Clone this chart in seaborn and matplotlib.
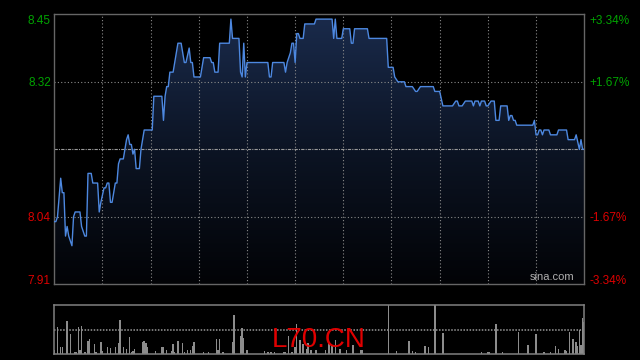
import numpy as np
import matplotlib
matplotlib.use("Agg")
import matplotlib.pyplot as plt
import seaborn as sns
from matplotlib.colors import LinearSegmentedColormap

# ---------------- data ----------------
minutes = [0, 1, 2, 4, 5, 6, 7, 8, 9, 10, 11, 12, 13, 16, 17, 18, 19, 20, 21, 23,
           24, 27, 28, 29, 31, 32, 33, 34, 35, 36, 38, 39, 40, 41, 43, 45, 46, 47, 48, 49,
           50, 51, 53, 54, 56, 61, 62, 67, 68, 69, 70, 71, 72, 74, 75, 77, 79, 81, 82, 84,
           85, 86, 87, 91, 93, 97, 98, 99, 100, 102, 103, 109, 110, 111, 115, 116, 117, 118, 119, 120,
           133, 134, 135, 136, 143, 144, 145, 147, 148, 149, 150, 151, 152, 153, 155, 156, 162, 163, 173, 174,
           175, 176, 179, 180, 184, 185, 186, 187, 195, 196, 207, 208, 211, 212, 214, 218, 219, 223, 225, 226,
           228, 236, 237, 240, 242, 248, 250, 251, 252, 254, 256, 260, 261, 262, 264, 265, 266, 268, 269, 270,
           272, 274, 275, 277, 278, 282, 283, 284, 285, 286, 287, 288, 298, 299, 300, 301, 302, 303, 304, 305,
           308, 309, 313, 314, 319, 320, 324, 325, 327, 328, 329, 330]
prices = [8.03, 8.03, 8.04, 8.12, 8.09, 8.09, 8.00, 8.02, 8.00, 7.99, 7.98, 8.04, 8.05, 8.05, 8.02, 8.01, 8.00, 8.00, 8.13, 8.13,
          8.11, 8.11, 8.05, 8.07, 8.10, 8.10, 8.11, 8.11, 8.07, 8.07, 8.11, 8.11, 8.15, 8.16, 8.16, 8.20, 8.21, 8.19, 8.19, 8.17,
          8.18, 8.14, 8.14, 8.18, 8.22, 8.22, 8.29, 8.29, 8.24, 8.29, 8.31, 8.31, 8.34, 8.34, 8.36, 8.40, 8.40, 8.36, 8.36, 8.39,
          8.36, 8.36, 8.33, 8.33, 8.37, 8.37, 8.36, 8.36, 8.34, 8.34, 8.40, 8.40, 8.45, 8.41, 8.41, 8.34, 8.33, 8.40, 8.33, 8.36,
          8.36, 8.33, 8.33, 8.36, 8.36, 8.34, 8.36, 8.38, 8.40, 8.40, 8.36, 8.42, 8.42, 8.41, 8.41, 8.44, 8.44, 8.45, 8.45, 8.41,
          8.45, 8.41, 8.41, 8.43, 8.43, 8.40, 8.40, 8.43, 8.43, 8.41, 8.41, 8.35, 8.35, 8.33, 8.32, 8.32, 8.31, 8.31, 8.30, 8.30,
          8.31, 8.31, 8.30, 8.30, 8.27, 8.27, 8.28, 8.28, 8.27, 8.27, 8.28, 8.28, 8.27, 8.28, 8.28, 8.27, 8.28, 8.28, 8.27, 8.27,
          8.28, 8.28, 8.24, 8.24, 8.27, 8.27, 8.24, 8.25, 8.25, 8.24, 8.24, 8.23, 8.23, 8.24, 8.21, 8.21, 8.22, 8.22, 8.21, 8.22,
          8.22, 8.21, 8.21, 8.22, 8.22, 8.20, 8.20, 8.21, 8.18, 8.20, 8.18, 8.18]

vol_minutes = [0, 2, 4, 5, 8, 10, 13, 14, 15, 16, 17, 19, 21, 22, 25, 26, 29, 30, 33, 35,
               38, 40, 41, 43, 45, 47, 48, 49, 50, 55, 56, 57, 58, 63, 67, 68, 70, 73, 74, 75,
               77, 80, 81, 83, 85, 86, 87, 93, 96, 101, 102, 103, 105, 111, 112, 116, 117, 118, 120, 131,
               133, 135, 137, 143, 144, 146, 148, 150, 151, 153, 155, 157, 158, 160, 163, 169, 171, 173, 175, 178,
               182, 186, 191, 192, 208, 213, 221, 223, 225, 231, 233, 237, 242, 266, 270, 271, 275, 279, 289, 295,
               300, 305, 309, 312, 314, 318, 319, 321, 323, 325, 326, 327, 328, 329, 330]
volumes = [9, 56, 16, 16, 68, 42, 5, 5, 55, 9, 57, 5, 27, 31, 22, 5, 25, 7, 15, 13,
           16, 24, 70, 16, 12, 36, 5, 7, 11, 26, 27, 23, 15, 7, 16, 16, 9, 7, 21, 5,
           28, 24, 5, 9, 10, 18, 26, 5, 5, 31, 9, 31, 5, 25, 80, 37, 53, 34, 9, 7,
           5, 5, 6, 5, 5, 37, 5, 16, 61, 30, 22, 12, 24, 9, 9, 9, 24, 19, 30, 12,
           9, 19, 9, 10, 100, 7, 27, 7, 5, 17, 15, 100, 44, 5, 5, 5, 61, 5, 46, 19,
           42, 5, 5, 17, 11, 9, 7, 46, 31, 25, 17, 49, 19, 73, 65]

prev_close = 8.18
price_ticks = [8.45, 8.32, 8.04, 7.91]
price_labels = ["8.45", "8.32", "8.04", "7.91"]
pct_labels = ["+3.34%", "+1.67%", "-1.67%", "-3.34%"]
grid_prices = [8.32, 8.04]
session_minutes = 330
grid_minutes = list(range(30, 330, 30))

# ---------------- style ----------------
sns.set_style("dark")
plt.rcParams['font.family'] = ['Liberation Sans', 'DejaVu Sans']

UP = '#00a300'
DOWN = '#dd0000'
SPINE = '#666666'
GRID = '#8a8a8a'
LINE = '#4d88e0'

y_lo, y_hi = prev_close - 0.28, prev_close + 0.28

fig = plt.figure(figsize=(6.4, 3.6), dpi=100, facecolor='black')
ax = fig.add_axes([0.0848, 0.2103, 0.828, 0.75])
axv = fig.add_axes([0.0848, 0.0153, 0.828, 0.1375])

for a in (ax, axv):
    a.set_facecolor('black')
    a.grid(False)

# price line
sns.lineplot(x=minutes, y=prices, ax=ax, color=LINE, linewidth=1.0, zorder=4)

# gradient fill under the line
poly = ax.fill_between(minutes, prices, y_lo, facecolor='none', edgecolor='none')
grad = np.linspace(1, 0, 256).reshape(-1, 1)
cmap = LinearSegmentedColormap.from_list('g', ['#020306', '#0c1424', '#1a2b4c'])
im = ax.imshow(grad, cmap=cmap, aspect='auto', origin='upper',
               extent=[0, session_minutes, y_lo, y_hi], zorder=1, interpolation='bilinear')
im.set_clip_path(poly.get_paths()[0], transform=ax.transData)

# grid
for v in grid_prices:
    ax.axhline(v, color=GRID, lw=0.8, ls=(0, (1, 2)), zorder=2)
for m in grid_minutes:
    ax.axvline(m, color=GRID, lw=0.8, ls=(0, (1, 2)), zorder=2)
ax.axhline(prev_close, color='#9a9a9a', lw=0.8, ls=(0, (3, 1, 1, 1)), zorder=2)

ax.set_xlim(0, session_minutes)
ax.set_ylim(y_lo, y_hi)
ax.set_xticks([])
ax.set_yticks(price_ticks)
ax.set_yticklabels(price_labels)
ax.tick_params(axis='y', length=0, labelsize=8.5, pad=2.5)
for lab, v in zip(ax.get_yticklabels(), price_ticks):
    lab.set_color(UP if v > prev_close else DOWN)
ax.set_xlabel('')
ax.set_ylabel('')
for s in ax.spines.values():
    s.set_visible(True)
    s.set_color(SPINE)
    s.set_linewidth(1.0)

ax2 = ax.twinx()
ax2.set_ylim(y_lo, y_hi)
ax2.set_yticks(price_ticks)
ax2.set_yticklabels(pct_labels)
ax2.tick_params(axis='y', length=0, labelsize=8.5, pad=4)
for lab, v in zip(ax2.get_yticklabels(), price_ticks):
    lab.set_color(UP if v > prev_close else DOWN)
for s in ax2.spines.values():
    s.set_visible(False)
ax2.grid(False)

ax.text(0.939, 0.008, 'sina.com', transform=ax.transAxes, color='#b0b0b0',
        fontsize=8, ha='center', va='bottom', zorder=5)

# volume
axv.bar(vol_minutes, volumes, width=0.9, color='#8c8c8c', linewidth=0, zorder=2)
axv.axhline(50, color='#999999', lw=1.1, ls=(0, (1, 1)), zorder=1)
axv.set_xlim(0, session_minutes)
axv.set_ylim(0, 100)
axv.set_xticks([])
axv.set_yticks([])
for k, s in axv.spines.items():
    s.set_visible(True)
    s.set_color('#808080')
    s.set_linewidth(1.1)
    if k in ('top', 'bottom'):
        s.set_linestyle((0, (1, 1)))

fig.text(319 / 640, 1 - 340 / 360, 'L70.CN', color='#e00000', fontsize=20,
         ha='center', va='center', zorder=10)

fig.savefig('out.png', dpi=100, facecolor='black')
